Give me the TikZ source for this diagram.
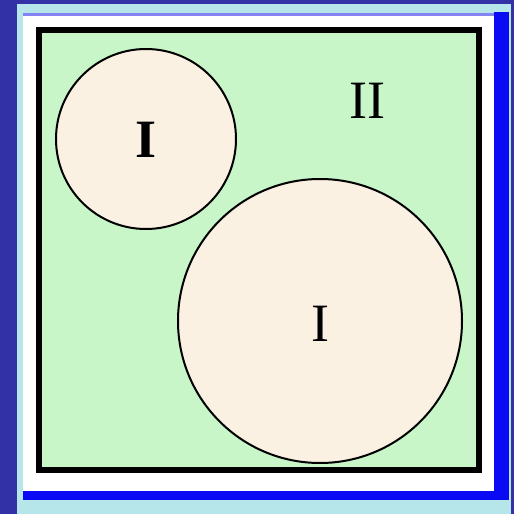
\documentclass[tikz,border=0pt]{standalone}
\usepackage{fontspec}
\setmainfont{Liberation Serif}
\definecolor{bgblue}{HTML}{3232A6}
\definecolor{framecyan}{HTML}{B6E6EA}
\definecolor{shadeblue}{HTML}{0A0AF5}
\definecolor{topline}{HTML}{8484F2}
\definecolor{fieldgreen}{HTML}{C8F6C8}
\definecolor{discfill}{HTML}{FBF1E2}
\tikzset{
  disc/.style={circle, draw=black, line width=2pt, fill=discfill, inner sep=0pt},
  lbl/.style={font=\fontsize{54}{60}\selectfont, inner sep=0pt}
}
\begin{document}
\begin{tikzpicture}[x=1pt,y=-1pt]
\useasboundingbox (0,0) rectangle (514,514);
\fill[bgblue] (0,0) rectangle (514,514);
\fill[framecyan] (17,4) rectangle (511,514);
\fill[white] (23,16) rectangle (494,491);
\fill[topline] (23,13) rectangle (494,16);
\fill[shadeblue] (494,12) rectangle (509,500);
\fill[shadeblue] (23,491) rectangle (509,500);
\node[draw=black, line width=5.5pt, fill=fieldgreen, minimum width=440pt, minimum height=440pt, inner sep=0pt] (field) at (259,250) {};
\node[disc, minimum size=180pt] (small) at (146,139) {};
\node[disc, minimum size=284pt] (big) at (320,321) {};
\node[lbl, font=\fontsize{54}{60}\selectfont\bfseries] (smallI) at (146,140) {I};
\node[lbl] (bigI) at (320,324) {I};
\node[lbl] (II) at (367,101) {II};
\end{tikzpicture}
\end{document}
